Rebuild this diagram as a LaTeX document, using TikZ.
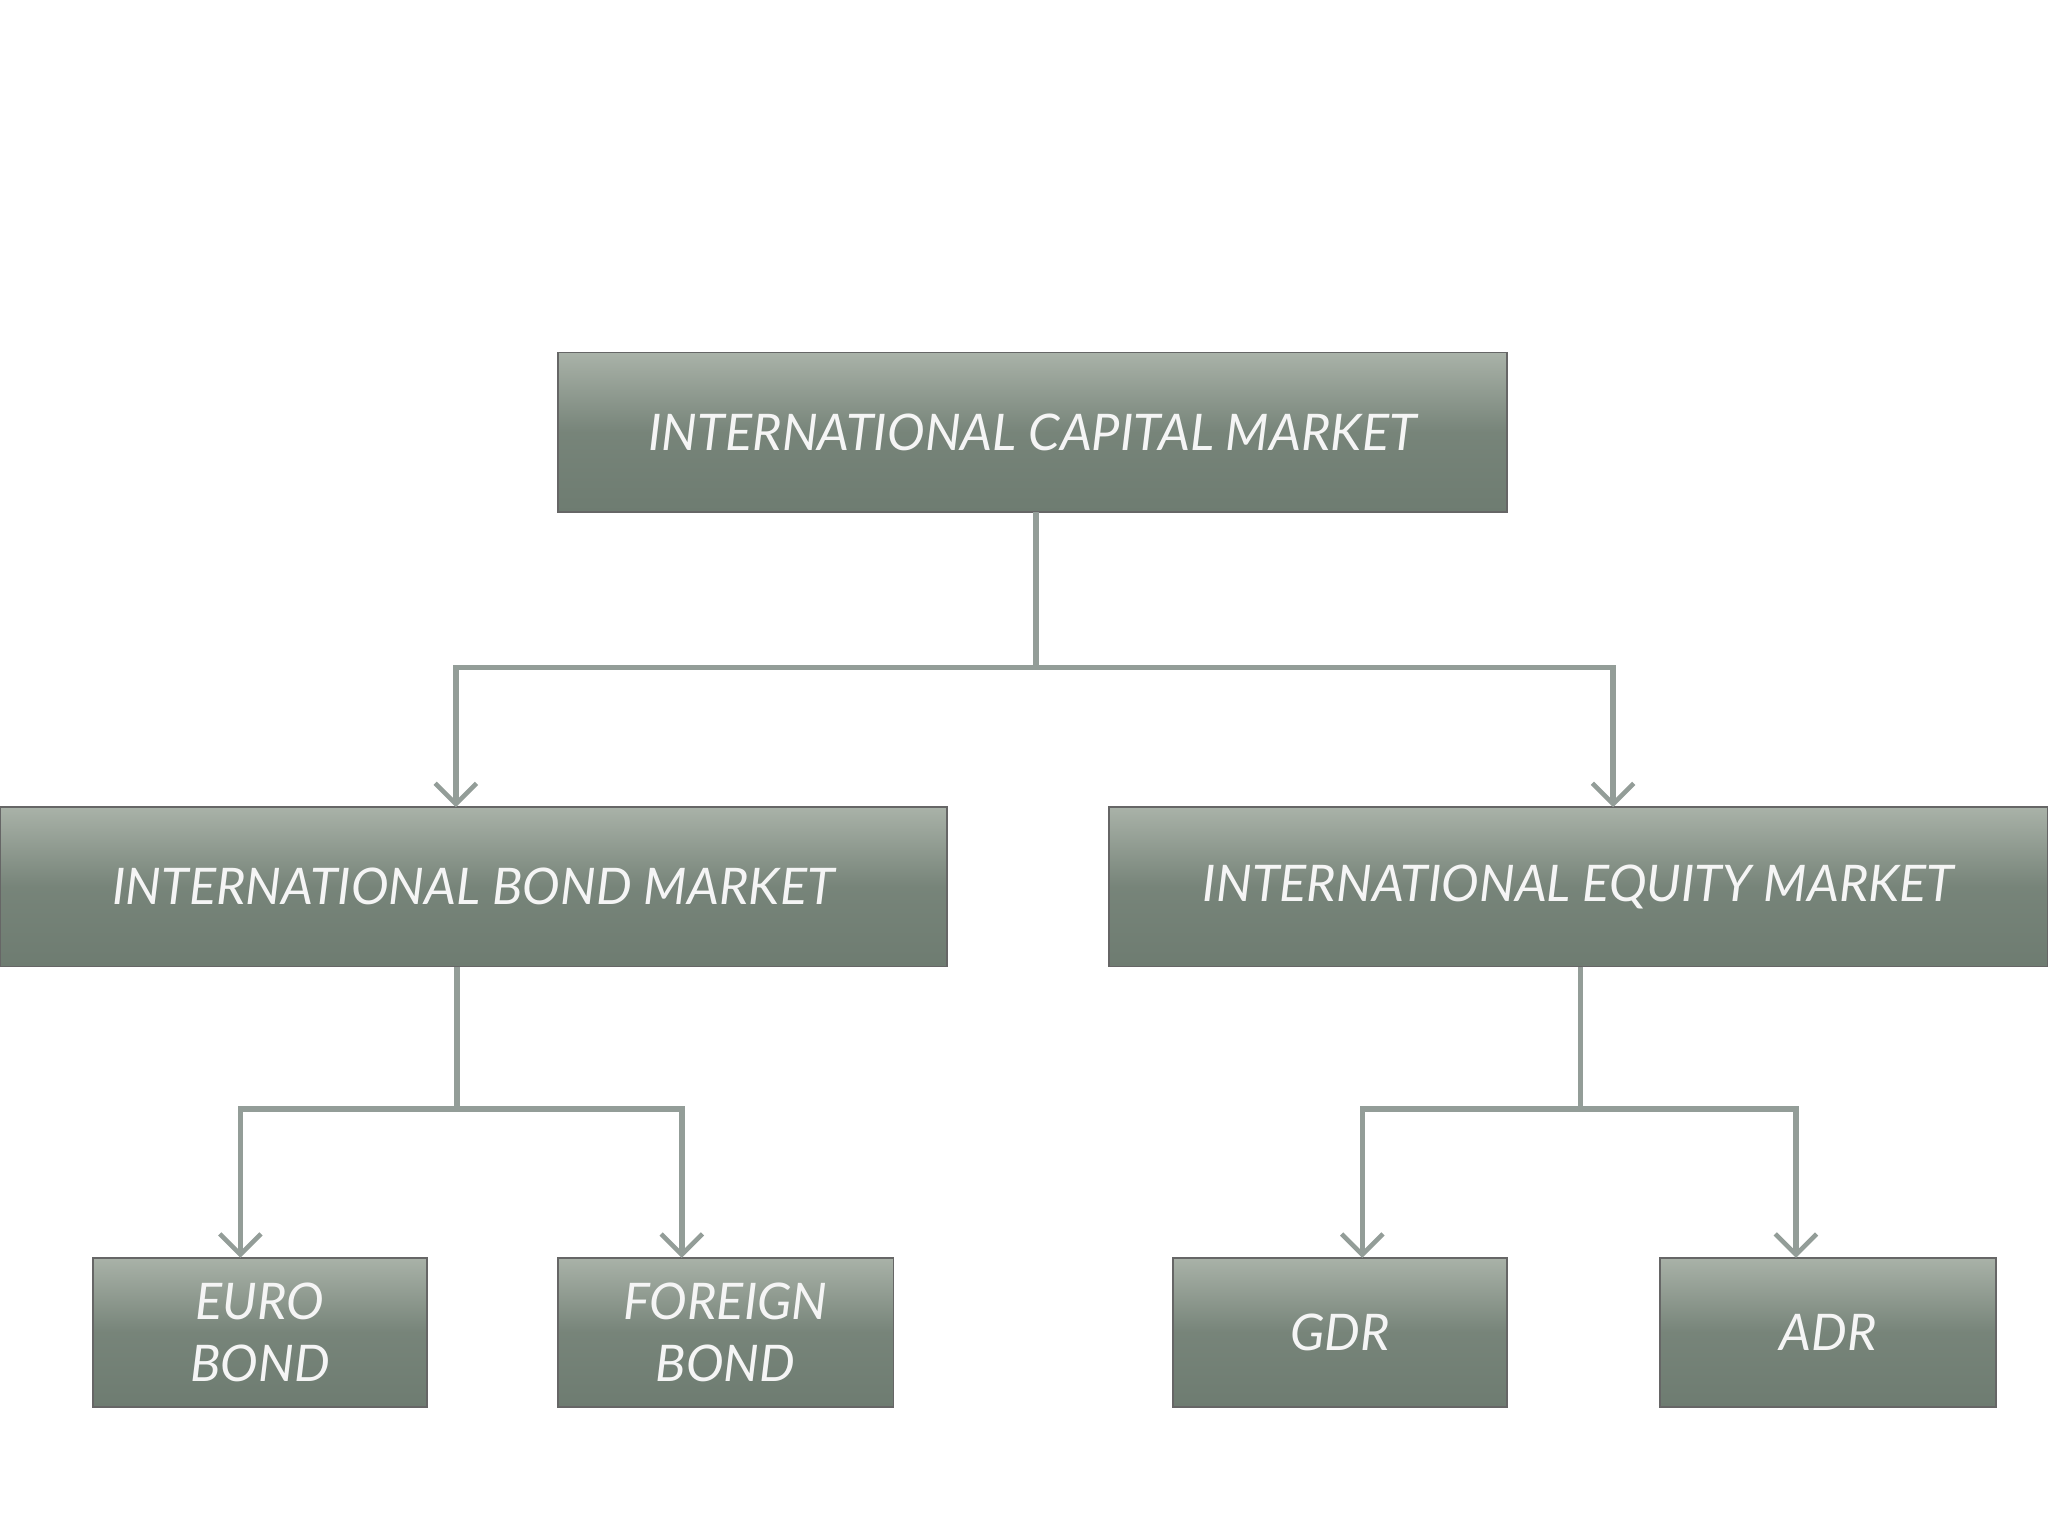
\documentclass[tikz,border=0pt]{standalone}
\usepackage{fontspec}
\setmainfont{Lato}
\usetikzlibrary{arrows.meta}
\definecolor{boxtop}{HTML}{A9B2A8}
\definecolor{boxbot}{HTML}{6E7C71}
\definecolor{conn}{HTML}{939D98}
\begin{document}
\begin{tikzpicture}[x=0.02cm,y=-0.02cm,
  box/.style={draw=black!60, line width=0.7pt, top color=boxtop, bottom color=boxbot, middle color=boxbot!85!boxtop,
    text=white!92!gray, font=\fontsize{22}{27}\selectfont\itshape, align=center, inner sep=0pt},
  conline/.style={draw=conn, line width=2.4pt},
  arr/.style={conline, -{Straight Barb[length=9pt,width=18pt,line width=2pt]}}]
\useasboundingbox (0,0) rectangle (1568,1176);
\node[box, minimum width=727*0.02cm, minimum height=122*0.02cm] (top) at (790.5,331) {INTERNATIONAL CAPITAL MARKET};
\node[box, minimum width=725*0.02cm, minimum height=122*0.02cm] (bond) at (362.5,679) {INTERNATIONAL BOND MARKET};
\node[box, minimum width=719*0.02cm, minimum height=122*0.02cm] (eq) at (1208.5,679) {INTERNATIONAL EQUITY MARKET};
\node[box, minimum width=256*0.02cm, minimum height=114*0.02cm] (euro) at (199,1020) {EURO\\BOND};
\node[box, minimum width=257*0.02cm, minimum height=114*0.02cm] (foreign) at (555.5,1020) {FOREIGN\\BOND};
\node[box, minimum width=256*0.02cm, minimum height=114*0.02cm] (gdr) at (1026,1020) {GDR};
\node[box, minimum width=257*0.02cm, minimum height=114*0.02cm] (adr) at (1399.5,1020) {ADR};
\coordinate (j1) at (793,511);
\coordinate (j2) at (350,849);
\coordinate (j3) at (1210,849);
\draw[conline] (793,392) -- (j1);
\draw[arr] (j1) -- (349,511) -- (349,618);
\draw[arr] (j1) -- (1235,511) -- (1235,618);
\draw[conline] (350,740) -- (j2);
\draw[arr] (j2) -- (184,849) -- (184,963);
\draw[arr] (j2) -- (522,849) -- (522,963);
\draw[conline] (1210,740) -- (j3);
\draw[arr] (j3) -- (1043,849) -- (1043,963);
\draw[arr] (j3) -- (1375,849) -- (1375,963);
\end{tikzpicture}
\end{document}
